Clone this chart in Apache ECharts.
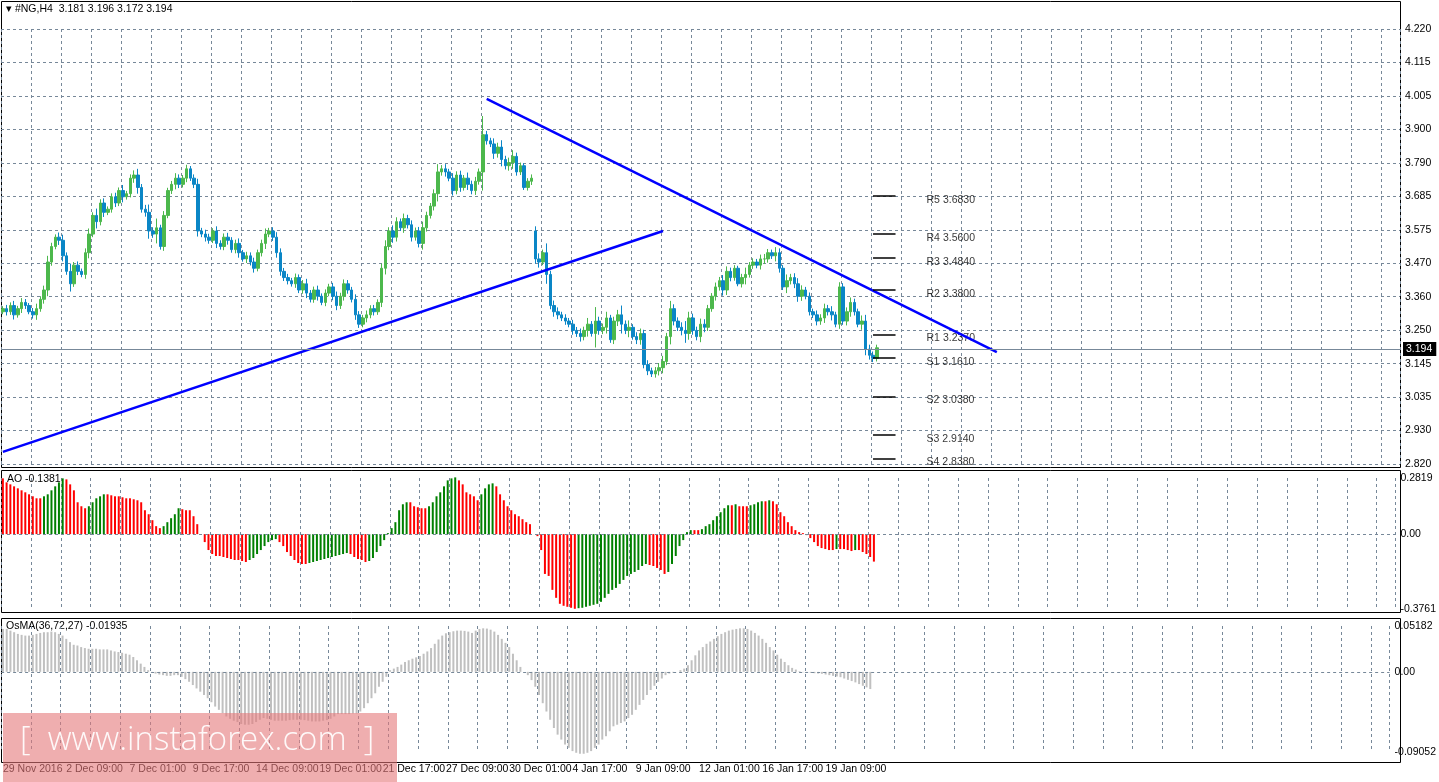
<!DOCTYPE html>
<html>
<head>
<meta charset="utf-8">
<script src="https://cdn.jsdelivr.net/npm/echarts@6/dist/echarts.min.js"></script>
<style>html,body{margin:0;padding:0;background:#fff}#c{width:1439px;height:782px}</style>
</head>
<body>
<div id="c"></div>
<script>
"use strict";
// NG H4 candles, closes
const closes = [
  3.32,3.31,3.33,3.30,3.32,3.34,3.33,3.31,3.30,3.32,
  3.35,3.38,3.47,3.52,3.55,3.54,3.49,3.44,3.40,3.46,
  3.44,3.43,3.50,3.56,3.62,3.60,3.66,3.63,3.64,3.68,
  3.66,3.70,3.68,3.69,3.74,3.75,3.71,3.64,3.63,3.57,
  3.56,3.58,3.52,3.62,3.70,3.72,3.74,3.72,3.74,3.77,
  3.74,3.72,3.57,3.56,3.55,3.54,3.57,3.53,3.52,3.55,
  3.54,3.51,3.53,3.50,3.48,3.49,3.47,3.45,3.50,3.53,
  3.56,3.57,3.55,3.50,3.44,3.42,3.41,3.40,3.42,3.38,
  3.40,3.37,3.35,3.38,3.36,3.34,3.37,3.39,3.36,3.33,
  3.36,3.40,3.38,3.35,3.30,3.27,3.29,3.30,3.32,3.31,
  3.34,3.45,3.52,3.57,3.55,3.60,3.58,3.61,3.59,3.55,
  3.57,3.53,3.58,3.62,3.65,3.69,3.76,3.77,3.76,3.74,
  3.70,3.75,3.71,3.74,3.72,3.70,3.73,3.76,3.88,3.86,
  3.85,3.82,3.84,3.80,3.78,3.79,3.81,3.76,3.78,3.71,
  3.73,3.74,3.48,3.47,3.50,3.43,3.33,3.31,3.30,3.29,
  3.28,3.27,3.25,3.24,3.23,3.25,3.27,3.24,3.28,3.25,
  3.26,3.29,3.22,3.28,3.30,3.27,3.25,3.26,3.23,3.22,
  3.24,3.14,3.12,3.11,3.12,3.13,3.15,3.23,3.32,3.28,
  3.26,3.25,3.24,3.29,3.25,3.23,3.27,3.26,3.32,3.36,
  3.39,3.41,3.38,3.44,3.42,3.45,3.40,3.42,3.43,3.46,
  3.47,3.46,3.48,3.48,3.50,3.49,3.50,3.45,3.39,3.41,
  3.42,3.40,3.36,3.38,3.36,3.31,3.30,3.28,3.29,3.32,
  3.31,3.30,3.27,3.39,3.28,3.31,3.34,3.31,3.27,3.28,
  3.19,3.17,3.16,3.194
];
const firstOpen = 3.31;
const gapOpens = {142: 3.57};
// wick length beyond the body, thousandths
const wick = [
  8,12,10,15,9,14,11,8,12,16, 10,14,20,12,9,15,18,11,25,10,
  12,9,14,18,10,22,12,15,9,11, 13,10,18,9,12,15,20,11,14,25,
  12,30,10,14,9,11,16,12,10,13, 9,12,18,10,14,11,9,15,10,12,
  14,10,12,16,9,13,11,14,10,12, 18,10,12,16,14,11,12,9,13,10,
  12,16,10,11,14,9,12,10,13,15, 11,14,12,10,16,12,10,14,11,12,
  10,15,20,12,18,14,10,16,12,14, 11,13,20,12,10,14,25,12,15,10,
  16,12,14,10,18,12,14,11,60,12, 10,18,14,22,12,16,20,12,10,8,
  10,12,15,18,10,30,12,16,14,10, 12,10,14,11,16,12,20,10,45,14,
  12,20,10,14,16,30,12,22,10,14, 16,12,14,10,12,15,18,12,25,14,
  12,16,30,20,14,12,18,16,12,10, 14,12,18,16,12,10,8,12,22,10,
  12,10,14,16,12,10,18,14,10,20, 12,14,18,15,10,12,10,14,12,16,
  12,18,10,15,12,14,16,12,10,18, 20,14,12,10
];
const ao = [
  0.28,0.26,0.25,0.24,0.23,0.22,0.21,0.20,0.19,0.18,0.18,0.19,0.20,0.22,0.24,0.26,0.28,0.275,0.25,0.22,
  0.16,0.14,0.13,0.14,0.16,0.18,0.19,0.2,0.2,0.195,
  0.19,0.19,0.185,0.18,0.18,0.175,0.17,0.16,0.12,0.1,
  0.07,0.04,0.03,0.04,0.06,0.08,0.1,0.13,0.125,0.12,
  0.12,0.09,0.05,0.00,-0.04,-0.08,
  -0.10,-0.11,-0.11,-0.115,-0.12,-0.125,-0.13,-0.13,-0.135,-0.14,-0.13,-0.12,-0.1,-0.08,
  -0.06,-0.04,-0.03,-0.025,-0.04,-0.06,-0.09,
  -0.11,-0.13,-0.145,-0.15,-0.15,-0.145,-0.14,-0.135,-0.13,-0.125,-0.12,-0.115,-0.11,-0.105,-0.10,-0.095,-0.10,-0.115,-0.125,-0.13,-0.14,-0.135,-0.12,-0.09,-0.06,-0.03,0.005,
  0.03,0.06,0.12,0.15,0.16,0.16,0.14,0.135,0.13,0.13,0.14,0.16,0.19,0.21,0.24,0.27,0.28,0.285,0.27,0.25,
  0.21,0.2,0.19,0.17,0.2,0.23,0.25,0.255,0.24,0.2,0.17,0.14,0.12,0.1,0.09,0.075,0.06,0.05,0.00,-0.01,
  -0.08,-0.2,-0.21,-0.28,-0.32,-0.35,-0.36,-0.365,-0.37,-0.375,-0.372,-0.37,-0.365,-0.36,-0.355,-0.35,-0.34,-0.32,-0.3,-0.28,
  -0.27,-0.25,-0.23,-0.21,-0.2,-0.19,-0.18,-0.16,-0.15,-0.155,-0.16,-0.17,-0.18,-0.2,-0.19,-0.15,-0.11,-0.06,-0.03,
  0.01,0.02,0.02,0.02,0.025,0.04,0.05,0.07,0.09,0.11,0.13,0.145,0.145,0.15,0.14,0.14,0.14,0.145,0.15,0.16,
  0.165,0.165,0.17,0.165,0.15,0.11,0.09,0.06,0.04,0.02,0.01,0.005,
  -0.005,-0.02,-0.04,-0.06,-0.07,-0.075,-0.08,-0.08,-0.075,-0.075,-0.075,-0.08,-0.085,-0.08,-0.08,-0.09,-0.1,-0.115,-0.138
];
// OsMA in units of 0.0001
const osma = [
  485,485,466,448,429,418,410,410,418,429,440,448,448,455,448,429,410,373,336,306,
  298,280,269,261,261,261,254,254,254,242,231,224,216,205,194,168,131,93,56,19,
  -7,-19,-30,-37,-45,-45,-37,-37,-56,-82,-112,-149,-187,-224,-261,-298,
  -343,-392,-429,-466,-504,-530,-552,-567,-589,-597,-597,-589,-567,-541,
  -522,-530,-541,-552,-552,-552,-552,-545,-541,-541,-541,-545,-552,-560,-560,-560,-552,-545,-530,-504,-477,-477,-477,-477,-470,-470,
  -448,-410,-354,-298,-242,-168,-112,-56,
  19,37,56,82,112,131,149,164,179,205,231,269,317,366,410,436,448,459,466,466,
  463,455,440,466,485,492,489,477,455,418,373,328,280,205,131,56,0,
  -37,-93,-168,-261,-354,-448,-541,-634,-709,-765,-821,-858,-895,-914,-925,-925,-914,-895,-858,-821,
  -765,-727,-671,-615,-597,-578,-560,-522,-485,-429,-373,-317,-261,-205,-157,-112,-75,-37,-19,
  -7,0,19,37,
  75,131,187,242,280,317,343,373,403,429,448,466,477,485,492,492,485,466,440,410,
  373,328,280,242,194,149,112,75,45,26,7,
  -4,-7,-11,-15,-19,-22,-30,-37,-45,-52,-60,-75,-90,-104,-119,-138,-157,-175,-194
];
const priceTicks = ['2.820','2.930','3.035','3.145','3.250','3.360','3.470','3.575','3.685','3.790','3.900','4.005','4.115','4.220'];
const timeLabels = ['29 Nov 2016','2 Dec 09:00','7 Dec 01:00','9 Dec 17:00','14 Dec 09:00','19 Dec 01:00','21 Dec 17:00',
  '27 Dec 09:00','30 Dec 01:00','4 Jan 17:00','9 Jan 09:00','12 Jan 01:00','16 Jan 17:00','19 Jan 09:00'];
const pivotNames = ['R5','R4','R3','R2','R1','S1','S2','S3','S4'];
const pivotValues = [3.683,3.560,3.484,3.380,3.237,3.161,3.038,2.914,2.838];
const trendUp = [[0,2.859],[176,3.570]];
const trendDown = [[129,3.995],[265,3.180]];
const lastPrice = 3.194;

const SLOTS = 373, BASE = 2.82, STEP = 1.4 / 13, LABEL_EVERY = 17;
const cats = [];
for (let i = 0; i < SLOTS; i++) cats.push(i % LABEL_EVERY === 0 && timeLabels[i / LABEL_EVERY] ? timeLabels[i / LABEL_EVERY] : '');

const candles = closes.map((c, i) => {
  const o = i === 0 ? firstOpen : (gapOpens[i] !== undefined ? gapOpens[i] : closes[i - 1]);
  const w = wick[i] / 1000;
  return [o - BASE, c - BASE, Math.min(o, c) - w - BASE, Math.max(o, c) + w - BASE];
});
const aoData = ao.map((v, i) => ({
  value: v,
  itemStyle: {color: i > 0 && v > ao[i - 1] ? '#008000' : '#ff0000'}
}));
const osmaData = osma.map(v => v / 10000);

const font = '"Liberation Sans", Arial, sans-serif';
const lbl = {color: '#000', fontSize: 10.5, fontFamily: font, margin: 5, align: 'left'};
const gridLine = {show: true, interval: (i) => i % 8 === 0, lineStyle: {color: '#778899', type: [3, 3], width: 1}};
const xAx = (gi, showLabels) => ({
  type: 'category', gridIndex: gi, data: cats, boundaryGap: true,
  axisLine: {show: false}, axisTick: {show: false},
  axisLabel: showLabels ? {show: true, interval: 0, color: '#000', fontSize: 10.5, fontFamily: font, align: 'left', margin: 12,
    formatter: v => v} : {show: false},
  splitLine: gridLine
});

const chart = echarts.init(document.getElementById('c'), null, {renderer: 'canvas'});
chart.setOption({
  animation: false,
  backgroundColor: '#fff',
  grid: [
    {left: 1, right: 39, top: 29, height: 435},
    {left: 1, right: 39, top: 478, height: 131},
    {left: 1, right: 39, top: 626, height: 126}
  ],
  xAxis: [xAx(0, false), xAx(1, false), xAx(2, true)],
  yAxis: [
    {type: 'value', gridIndex: 0, position: 'right', min: 0, max: 1.4, interval: STEP,
      axisLine: {show: false}, axisTick: {show: false},
      axisLabel: Object.assign({}, lbl, {formatter: v => priceTicks[Math.round(v / STEP)] || ''}),
      splitLine: {show: true, lineStyle: {color: '#778899', type: [3, 3]}}},
    {type: 'value', gridIndex: 1, position: 'right', min: -0.3761, max: 0.2819,
      axisLine: {show: false}, axisTick: {show: false}, splitLine: {show: false},
      axisLabel: Object.assign({}, lbl, {customValues: [-0.3761, 0, 0.2819],
        formatter: v => v === 0 ? '0.00' : v.toFixed(4)})},
    {type: 'value', gridIndex: 2, position: 'right', min: -0.09052, max: 0.05182,
      axisLine: {show: false}, axisTick: {show: false}, splitLine: {show: false},
      axisLabel: Object.assign({}, lbl, {customValues: [-0.09052, 0, 0.05182],
        formatter: v => v === 0 ? '0.00' : v.toFixed(5)})}
  ],
  series: [
    {type: 'candlestick', xAxisIndex: 0, yAxisIndex: 0, data: candles, barWidth: 3,
      itemStyle: {color: '#4cb84c', color0: '#0a86c6', borderColor: '#4cb84c', borderColor0: '#0a86c6', borderWidth: 1},
      markLine: {symbol: 'none', silent: true,
        lineStyle: {color: '#778899', type: 'solid', width: 1},
        label: {position: 'end', formatter: lastPrice.toFixed(3), backgroundColor: '#000', color: '#fff',
          fontSize: 10.5, fontFamily: font, padding: [2, 4, 1, 3], distance: 3},
        data: [{yAxis: lastPrice - BASE}]}},
    {type: 'line', xAxisIndex: 0, yAxisIndex: 0, data: trendUp.map(p => [p[0], p[1] - BASE]),
      symbol: 'none', lineStyle: {color: '#0000ff', width: 2.5}},
    {type: 'line', xAxisIndex: 0, yAxisIndex: 0, data: trendDown.map(p => [p[0], p[1] - BASE]),
      symbol: 'none', lineStyle: {color: '#0000ff', width: 2.5}},
    {type: 'scatter', xAxisIndex: 0, yAxisIndex: 0, symbolSize: 0,
      data: pivotValues.map((v, i) => ({value: [246, v - BASE], name: pivotNames[i]})),
      label: {show: true, position: 'right', offset: [-4, 4], color: '#000', fontSize: 10.5, fontFamily: font,
        formatter: p => p.name + ' ' + pivotValues[p.dataIndex].toFixed(4)},
      markLine: {symbol: 'none', silent: true, label: {show: false}, lineStyle: {color: '#000', type: 'solid', width: 1.5},
        data: pivotValues.map(v => [{coord: [232, v - BASE]}, {coord: [238, v - BASE]}])}},
    {type: 'bar', xAxisIndex: 1, yAxisIndex: 1, data: aoData, barWidth: 2, clip: false,
      markLine: {symbol: 'none', silent: true, label: {show: false}, lineStyle: {color: '#778899', type: [3, 3], width: 1}, data: [{yAxis: 0}]}},
    {type: 'bar', xAxisIndex: 2, yAxisIndex: 2, data: osmaData, barWidth: 2, clip: false, itemStyle: {color: '#c0c0c0'},
      markLine: {symbol: 'none', silent: true, label: {show: false}, lineStyle: {color: '#778899', type: [3, 3], width: 1}, data: [{yAxis: 0}]}}
  ],
  graphic: [
    {type: 'rect', shape: {x: 1.5, y: 1.5, width: 1399, height: 466}, style: {fill: 'none', stroke: '#000', lineWidth: 1}},
    {type: 'rect', shape: {x: 1.5, y: 470.5, width: 1399, height: 142}, style: {fill: 'none', stroke: '#000', lineWidth: 1}},
    {type: 'rect', shape: {x: 1.5, y: 618.5, width: 1399, height: 144}, style: {fill: 'none', stroke: '#000', lineWidth: 1}},
    {type: 'text', left: 6, top: 4, style: {text: '▾ #NG,H4  3.181 3.196 3.172 3.194', fill: '#000', font: '10.5px ' + font}},
    {type: 'text', left: 7, top: 474, style: {text: 'AO -0.1381', fill: '#000', font: '10.5px ' + font}},
    {type: 'text', left: 6, top: 621, style: {text: 'OsMA(36,72,27) -0.01935', fill: '#000', font: '10.5px ' + font}},
    {type: 'rect', z: 100, shape: {x: 3, y: 713, width: 394, height: 69}, style: {fill: 'rgba(228,120,122,0.6)'}},
    {type: 'text', z: 101, left: 20, top: 724, style: {text: '[  www.instaforex.com  ]', fill: 'rgba(255,255,255,0.92)', font: '300 33px "Open Sans", sans-serif'}}
  ]
});
</script>
</body>
</html>
